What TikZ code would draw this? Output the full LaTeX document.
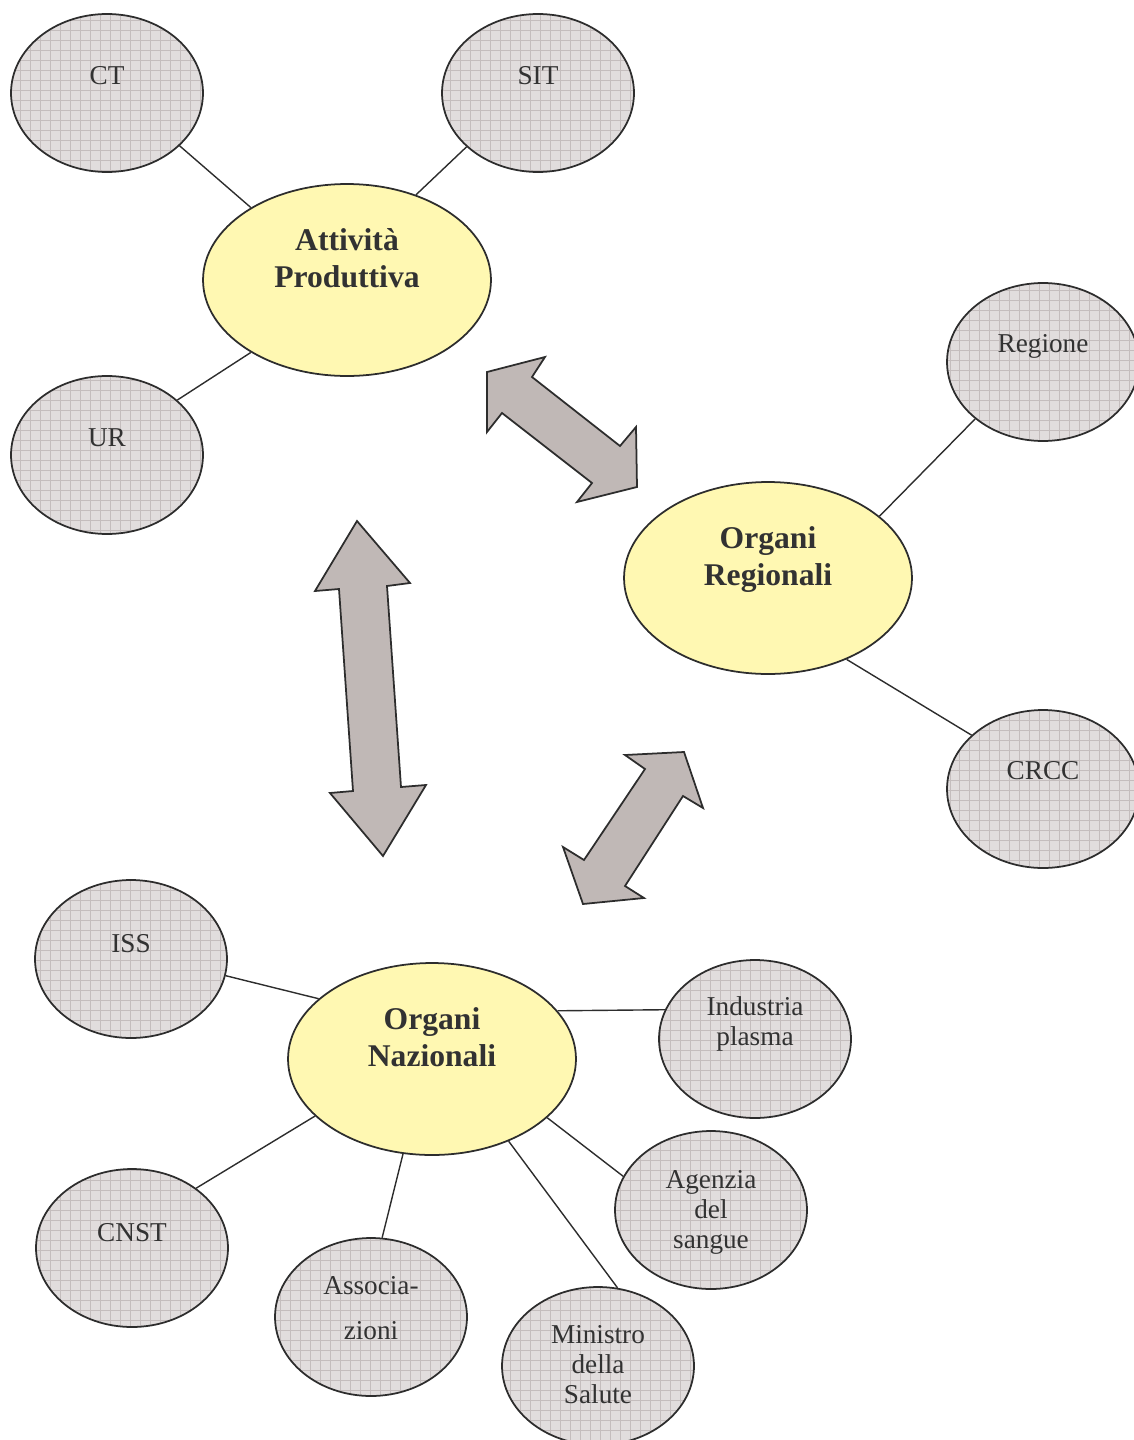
\documentclass[tikz,border=0pt]{standalone}
\usepackage{fontspec}
\setmainfont{Liberation Serif}
\usepackage{xcolor}
\usepackage{tikz}
\usetikzlibrary{shapes.geometric,patterns.meta}
\definecolor{bubgray}{RGB}{225,221,221}
\definecolor{gridgray}{RGB}{196,189,189}
\definecolor{coreyellow}{RGB}{255,248,178}
\definecolor{arrowgray}{RGB}{192,184,182}
\definecolor{edgegray}{RGB}{45,45,45}
\definecolor{textgray}{RGB}{50,50,50}
\tikzset{
  bubble/.style={ellipse, draw=edgegray, line width=1pt, minimum width=3.84cm, minimum height=3.16cm, inner sep=0pt, preaction={fill=bubgray}, pattern={Hatch[angle=0, distance=0.2cm, line width=0.35pt]}, pattern color=gridgray, text=textgray, font=\fontsize{15.5}{17}\selectfont},
  core/.style={ellipse, draw=edgegray, line width=1pt, fill=coreyellow, minimum width=5.76cm, minimum height=3.84cm, inner sep=0pt, text=textgray, font=\fontsize{18}{21}\selectfont\bfseries},
  link/.style={draw=edgegray, line width=0.8pt},
  bigarrow/.style={draw=edgegray, line width=1pt, fill=arrowgray, line join=miter},
}
\newcommand{\lift}[2]{\raisebox{#1}[0pt][0pt]{\begin{tabular}{@{}c@{}}#2\end{tabular}}}

\begin{document}
\begin{tikzpicture}[x=0.02cm, y=-0.02cm]
  \useasboundingbox (0,0) rectangle (1133,1440);

  % Central nodes
  \node[core] (AP) at (347,280) {\lift{6pt}{Attività\\Produttiva}};
  \node[core] (OR) at (768,578) {\lift{6pt}{Organi\\Regionali}};
  \node[core] (ON) at (432,1059) {\lift{6pt}{Organi\\Nazionali}};

  % Attivita Produttiva
  \node[bubble] (CT) at (107,93) {\lift{4.6pt}{CT}};
  \node[bubble] (SIT) at (538,93) {\lift{4.6pt}{SIT}};
  \node[bubble] (UR) at (107,455) {\lift{4.6pt}{UR}};

  % Organi Regionali
  \node[bubble] (REG) at (1043,362) {\lift{5pt}{Regione}};
  \node[bubble] (CRCC) at (1043,789) {\lift{5pt}{CRCC}};

  % Organi Nazionali
  \node[bubble] (ISS) at (131,959) {\lift{3.5pt}{ISS}};
  \node[bubble] (IND) at (755,1039) {\lift{4.5pt}{Industria\\plasma}};
  \node[bubble] (AGE) at (711,1210) {\lift{-5pt}{Agenzia\\del\\sangue}};
  \node[bubble] (CNST) at (132,1248) {\lift{3.5pt}{CNST}};
  \node[bubble] (ASS) at (371,1317) {\lift{0pt}{Associa-\\[8.6pt]zioni}};
  \node[bubble] (MIN) at (598,1366) {\lift{-4.5pt}{Ministro\\della\\Salute}};

  % Links
  \foreach \a/\b in {CT.-36/AP.143, SIT.-143/AP.51, UR.38/AP.217,
                     REG.220/OR.29, CRCC.143/OR.-46,
                     ISS.-10/ON.152, IND.162/ON.21, AGE.159/ON.-27,
                     MIN.76/ON.-47, ASS.82/ON.-107, CNST.43/ON.206}
    \draw[link] (\a) -- (\b);

  % Double arrows
  \draw[bigarrow] (487,372) -- (545,357) -- (532,377) -- (620,446) -- (636,427) -- (637,487) -- (577,502) -- (592,483) -- (502,413) -- (487,432) -- cycle;
  \draw[bigarrow] (357,521) -- (410,583) -- (387,586) -- (401,787) -- (426,785) -- (383,856) -- (330,793) -- (353,791) -- (339,589) -- (315,591) -- cycle;
  \draw[bigarrow] (684,752) -- (703,808) -- (683,796) -- (625,886) -- (644,898) -- (583,904) -- (563,847) -- (584,860) -- (645,769) -- (625,755) -- cycle;

\end{tikzpicture}
\end{document}
